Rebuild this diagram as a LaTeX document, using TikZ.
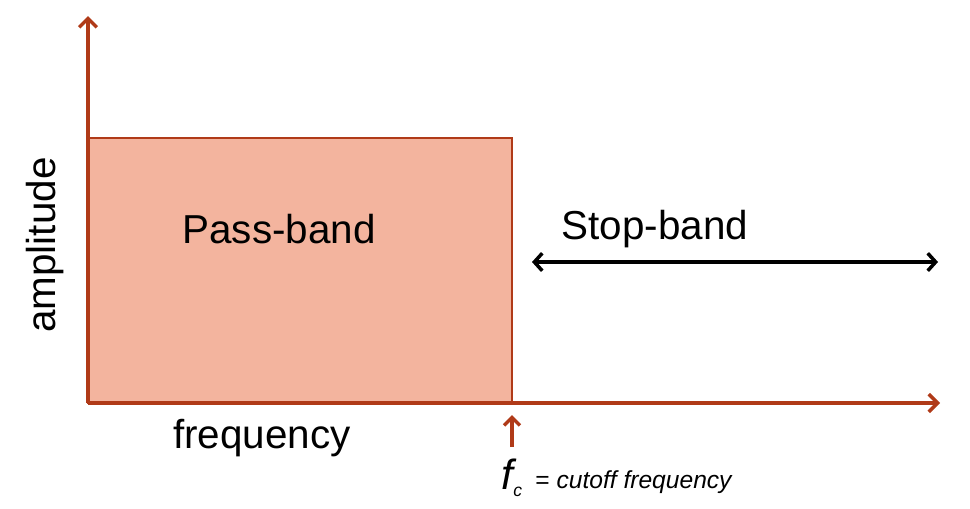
\documentclass[tikz,border=0pt]{standalone}
\usepackage{fontspec}
\setmainfont{Liberation Sans}
\usetikzlibrary{arrows.meta,positioning}
\definecolor{axisred}{RGB}{176,58,24}
\definecolor{passfill}{RGB}{243,180,158}

\begin{document}
\begin{tikzpicture}[
    x=0.02cm, y=-0.02cm,
    axis/.style={draw=axisred, line width=2pt, -{Straight Barb[length=5pt, width=10pt, line width=2pt]}},
    markarrow/.style={draw=axisred, line width=2pt, -{Straight Barb[length=4.5pt, width=9pt, line width=2pt]}},
    passbox/.style={draw=axisred, line width=1.2pt, fill=passfill},
    bandarrow/.style={draw=black, line width=2pt, {Straight Barb[length=4.5pt, width=10pt, line width=2pt]}-{Straight Barb[length=4.5pt, width=10pt, line width=2pt]}},
    biglabel/.style={font=\fontsize{23}{28}\selectfont, inner sep=0pt}
]
\useasboundingbox (0,0) rectangle (970,508);

\coordinate (O) at (88,403);
\coordinate (ytop) at (88,16);
\coordinate (xend) at (940,403);
\coordinate (fc) at (512,403);
\coordinate (fctip) at (512,415);
\coordinate (fcbase) at (512,447);
\coordinate (sl) at (532,262);
\coordinate (sr) at (938,262);

\draw[passbox] (O) rectangle (512,138);
\draw[axis] (O) -- (ytop);
\draw[axis] (O) -- (xend);

\node[biglabel] (pass) at (279,229) {Pass-band};
\node[biglabel] (stop) at (655,229) {Stop-band};
\node[biglabel] (freq) at (262,438) {frequency};
\node[biglabel, rotate=90] (amp) at (45,245) {amplitude};

\draw[bandarrow] (sl) -- (sr);
\draw[markarrow] (fcbase) -- (fctip);

\node[inner sep=0pt] (fcl) at (512,478) {\fontsize{24}{28}\selectfont\itshape f\raisebox{-0.3ex}{\fontsize{10}{12}\selectfont c}};
\node[inner sep=0pt, anchor=west, font=\fontsize{14}{17}\selectfont] (cutoff) at (535,482) {= \itshape cutoff frequency};
\end{tikzpicture}
\end{document}
